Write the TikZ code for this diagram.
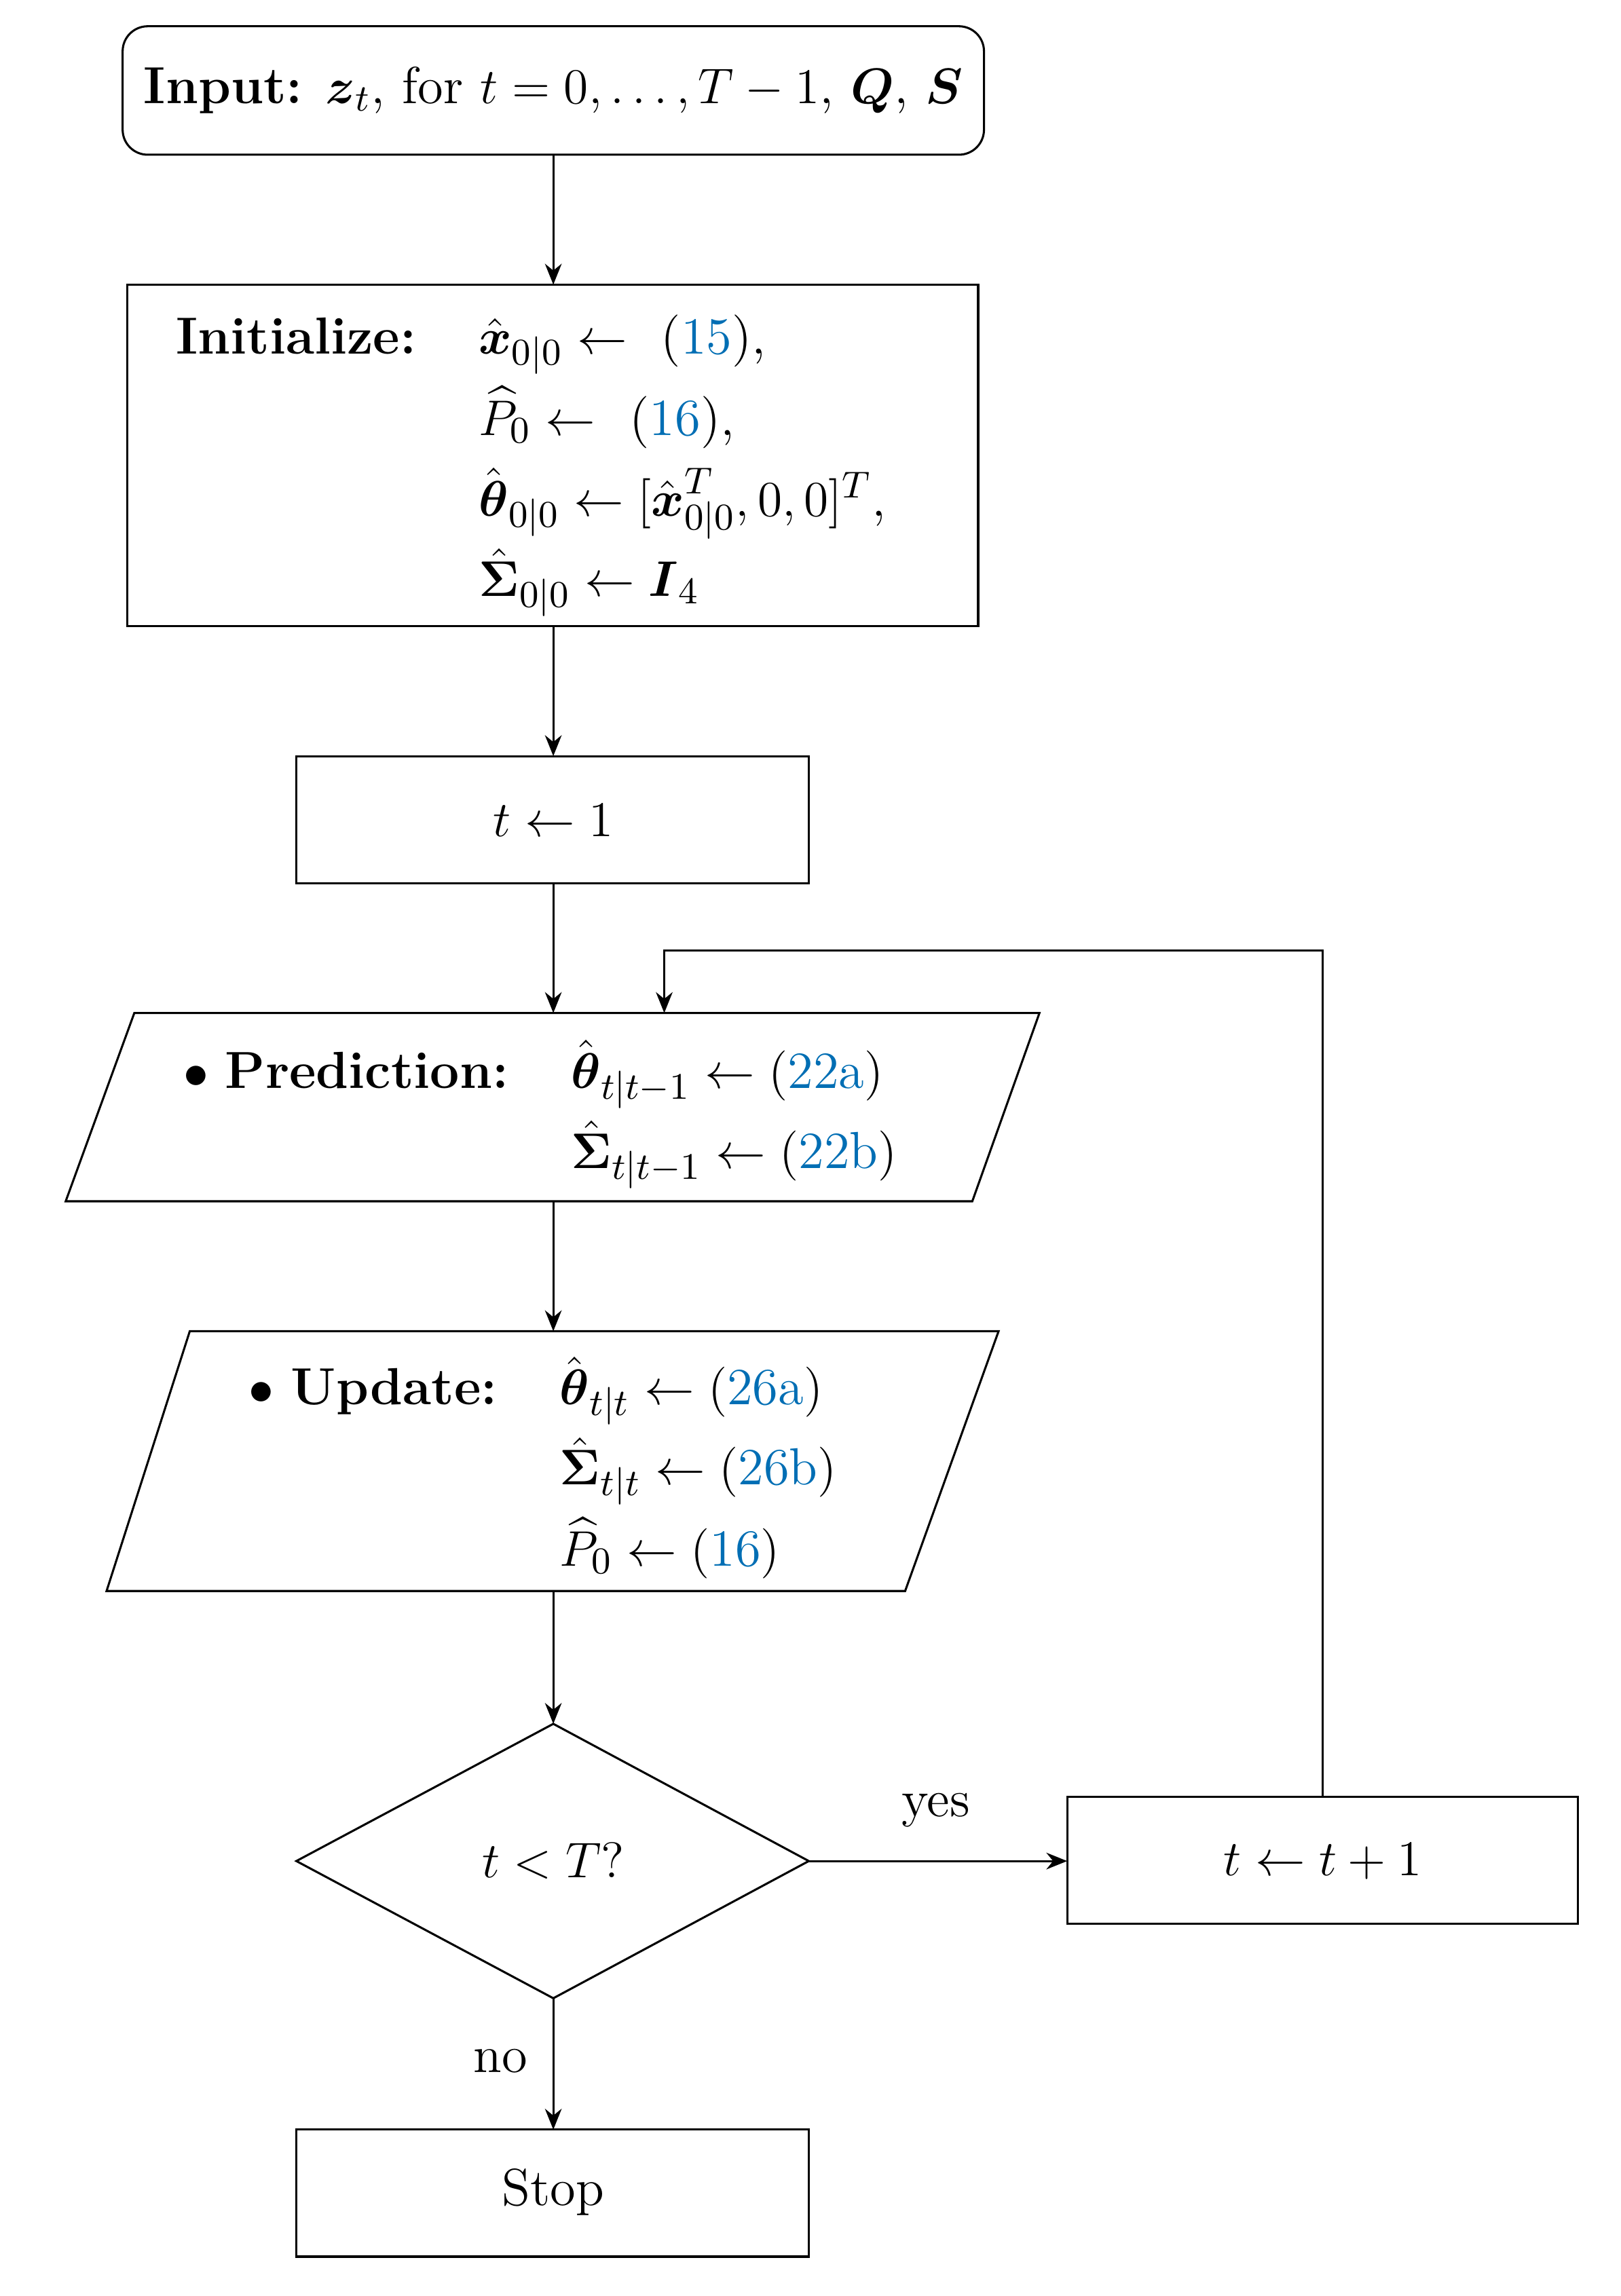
\documentclass[tikz,border=0pt]{standalone}
\usepackage{amsmath}
\usetikzlibrary{arrows.meta}
\definecolor{linkblue}{RGB}{0,110,180}
\newcommand{\lk}[1]{\text{\textcolor{linkblue}{#1}}}
\begin{document}
\begin{tikzpicture}[x=0.35pt,y=-0.35pt,
  box/.style={draw,line width=0.5pt},
  conn/.style={draw,line width=0.5pt,-{Stealth[length=5pt,width=4pt]}},
  txt/.style={font=\fontsize{12.5}{16}\selectfont,inner sep=0pt}]
\useasboundingbox (0,0) rectangle (1110,1573);
% shapes
\draw[box,rounded corners=6pt] (84,18) rectangle (674,106);
\draw[box] (87,195) rectangle (670,429);
\draw[box] (203,518) rectangle (554,605);
\draw[box] (92,694) -- (712,694) -- (666,823) -- (45,823) -- cycle;
\draw[box] (130,912) -- (684,912) -- (620,1090) -- (73,1090) -- cycle;
\draw[box] (379,1181) -- (554,1275) -- (379,1369) -- (203,1275) -- cycle;
\draw[box] (731,1231) rectangle (1081,1318);
\draw[box] (203,1459) rectangle (554,1546);
% text
\node[txt] (in) at (379,62) {\textbf{Input:} $\boldsymbol{z}_t$, for $t=0,\ldots,T-1$, $\boldsymbol{Q}$, $\boldsymbol{S}$};
\node[txt,anchor=north west] (ini) at (120,210) {\begin{tabular}{@{}l@{\hspace{1.2em}}l@{}}
\textbf{Initialize:} & $\hat{\boldsymbol{x}}_{0|0}\leftarrow$ \ (\lk{15}),\\[3pt]
 & $\widehat{P}_0\leftarrow$ \ (\lk{16}),\\[3pt]
 & $\hat{\boldsymbol{\theta}}_{0|0}\leftarrow[\hat{\boldsymbol{x}}_{0|0}^T,0,0]^T$,\\[3pt]
 & $\hat{\boldsymbol{\Sigma}}_{0|0}\leftarrow\boldsymbol{I}_4$
\end{tabular}};
\node[txt] (t1) at (379,562) {$t\leftarrow 1$};
\node[txt,anchor=north west] (pr) at (125,712) {\begin{tabular}{@{}l@{\hspace{1.2em}}l@{}}
$\bullet$ \textbf{Prediction:} & $\hat{\boldsymbol{\theta}}_{t|t-1}\leftarrow(\lk{22a})$\\[3pt]
 & $\hat{\boldsymbol{\Sigma}}_{t|t-1}\leftarrow(\lk{22b})$
\end{tabular}};
\node[txt,anchor=north west] (up) at (170,929) {\begin{tabular}{@{}l@{\hspace{1.2em}}l@{}}
$\bullet$ \textbf{Update:} & $\hat{\boldsymbol{\theta}}_{t|t}\leftarrow(\lk{26a})$\\[3pt]
 & $\hat{\boldsymbol{\Sigma}}_{t|t}\leftarrow(\lk{26b})$\\[3pt]
 & $\widehat{P}_0\leftarrow(\lk{16})$
\end{tabular}};
\node[txt] (dec) at (379,1275) {$t<T?$};
\node[txt] (inc) at (906,1275) {$t\leftarrow t+1$};
\node[txt] (stop) at (379,1502) {Stop};
\node[txt] (yes) at (641,1240) {yes};
\node[txt] (no) at (343,1412) {no};
% connector points
\coordinate (a1) at (379,106); \coordinate (a2) at (379,195);
\coordinate (b1) at (379,429); \coordinate (b2) at (379,518);
\coordinate (c1) at (379,605); \coordinate (c2) at (379,694);
\coordinate (d1) at (379,823); \coordinate (d2) at (379,912);
\coordinate (e1) at (379,1090); \coordinate (e2) at (379,1181);
\coordinate (f1) at (554,1275); \coordinate (f2) at (731,1275);
\coordinate (g1) at (379,1369); \coordinate (g2) at (379,1459);
\coordinate (h1) at (906,1231); \coordinate (h2) at (906,651);
\coordinate (h3) at (455,651); \coordinate (h4) at (455,694);
\draw[conn] (a1) -- (a2);
\draw[conn] (b1) -- (b2);
\draw[conn] (c1) -- (c2);
\draw[conn] (d1) -- (d2);
\draw[conn] (e1) -- (e2);
\draw[conn] (f1) -- (f2);
\draw[conn] (g1) -- (g2);
\draw[conn] (h1) -- (h2) -- (h3) -- (h4);
\end{tikzpicture}
\end{document}
